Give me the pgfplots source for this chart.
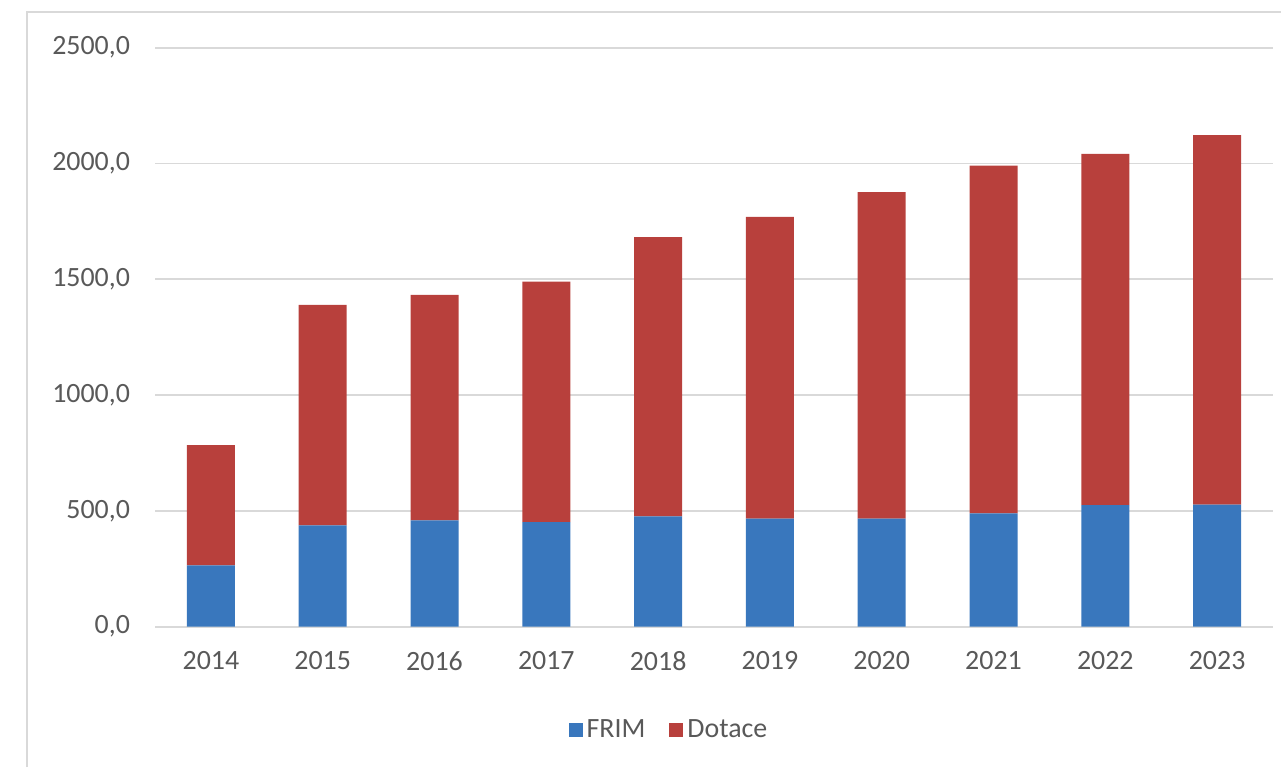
\documentclass[border=0pt]{standalone}
\usepackage{pgfplots}
\pgfplotsset{compat=1.18}
\usepackage{fontspec}
\setmainfont{Carlito}
\definecolor{txt}{HTML}{595959}
\definecolor{gridc}{HTML}{D9D9D9}
\definecolor{frim}{HTML}{3977BD}
\definecolor{dot}{HTML}{B8403C}
\begin{document}
\begin{tikzpicture}[x=1bp,y=1bp]
\useasboundingbox (0,0) rectangle (640.5,383.5);
\draw[gridc, line width=1pt] (13.5,0) -- (13.5,377.5) -- (640.5,377.5);
\begin{axis}[
  at={(77.5bp,70.15bp)}, anchor=south west,
  scale only axis,
  width=559bp, height=289.5bp,
  xmin=-0.5, xmax=9.5, ymin=0, ymax=2500,
  ytick={0,500,...,2500},
  xtick={0,...,9},
  xticklabels={2014,2015,2016,2017,2018,2019,2020,2021,2022,2023},
  ymajorgrids,
  major grid style={gridc, line width=1pt},
  axis line style={draw=none},
  tick style={draw=none},
  ticklabel style={font=\fontsize{14}{16}\selectfont, text=txt},
  yticklabel style={xshift=-9bp},
  xticklabel style={yshift=-9bp},
  /pgf/number format/.cd, fixed, fixed zerofill, precision=1, use comma, 1000 sep={}, assume math mode=true,
  /pgfplots/.cd,
  ybar stacked, bar width=24bp,
  legend columns=2,
  legend style={at={(0.4606,-0.178)}, anchor=center, draw=none, fill=none,
    font=\fontsize{14}{16}\selectfont, text=txt,
    /tikz/every even column/.append style={column sep=10bp}},
  legend image code/.code={\fill[#1] (0bp,-3.5bp) rectangle (7bp,3.5bp);},
]
\addplot[draw=none, fill=frim] coordinates {
(0,265) (1,437) (2,459) (3,452) (4,476) (5,467) (6,467) (7,489) (8,525) (9,527)};
\addplot[draw=none, fill=dot] coordinates {
(0,519) (1,953) (2,974) (3,1038) (4,1206) (5,1303) (6,1409) (7,1502) (8,1517) (9,1595)};
\legend{FRIM,Dotace}
\end{axis}
\end{tikzpicture}
\end{document}
